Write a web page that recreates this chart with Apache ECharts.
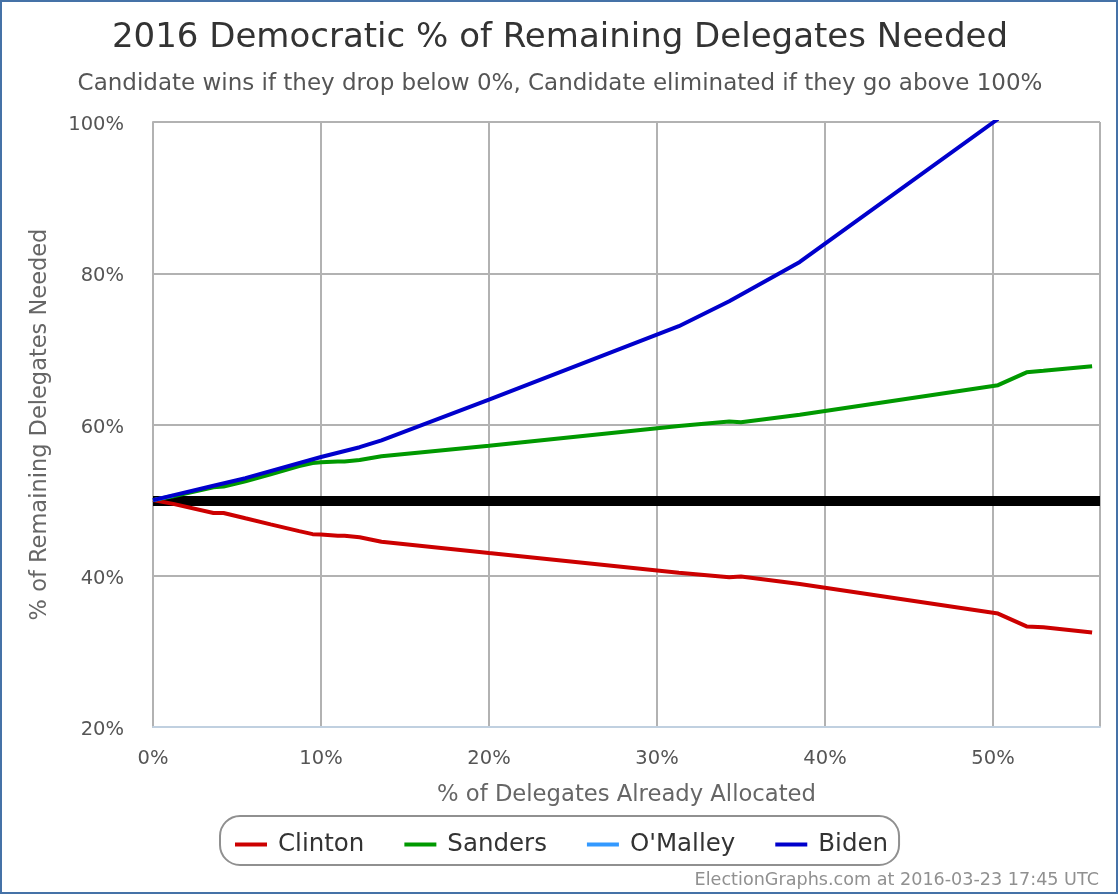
<!DOCTYPE html>
<html>
<head>
<meta charset="utf-8">
<script src="https://cdn.jsdelivr.net/npm/echarts@6/dist/echarts.min.js"></script>
<style>
html, body { margin: 0; padding: 0; background: #fff; }
#chart { width: 1120px; height: 896px; }
</style>
</head>
<body>
<div id="chart"></div>
<script>
const clintonX = [0, 1.2, 3.6, 4.2, 5.5, 7, 8.7, 9.5, 10, 11, 11.4, 12.3, 13.6, 20, 31.3, 34.3, 35, 38.5, 50.3, 52, 53, 55.9]
const clintonY = [50, 49.5, 48.3, 48.3, 47.6, 46.8, 45.9, 45.5, 45.45, 45.3, 45.3, 45.1, 44.5, 43, 40.4, 39.8, 39.9, 38.9, 35, 33.3, 33.2, 32.5]
const sandersX = [0, 1.2, 3.6, 4.2, 5.5, 7, 8.7, 9.5, 10, 11, 11.4, 12.3, 13.6, 20, 31.3, 34.3, 35, 38.5, 50.3, 52, 53, 55.9]
const sandersY = [50, 50.5, 51.7, 51.8, 52.5, 53.4, 54.5, 54.9, 55, 55.1, 55.1, 55.3, 55.8, 57.2, 59.8, 60.4, 60.3, 61.3, 65.2, 66.9, 67.1, 67.7]
const omalleyX = [0, 1.2]
const omalleyY = [50, 50.6]
const bidenX = [0, 3.6, 5.5, 10, 12.3, 13.6, 20, 31.3, 34.3, 38.5, 50.3]
const bidenY = [50, 51.9, 52.9, 55.7, 57, 57.9, 63.3, 73, 76.3, 81.5, 100.4]
const thresholdX = [0, 56.37]
const thresholdY = [49.9, 49.9]

const gridColor = '#b2b2b2'
const pair = (xs, ys) => xs.map((x, i) => [x, ys[i]])

function candidate(name, color, xs, ys) {
    return {
        name: name,
        type: 'line',
        data: pair(xs, ys),
        showSymbol: false,
        symbol: 'none',
        lineStyle: { color: color, width: 4 },
        itemStyle: { color: color },
        emphasis: { disabled: true }
    }
}

const chart = echarts.init(document.getElementById('chart'))
chart.setOption({
    animation: false,
    textStyle: { fontFamily: 'DejaVu Sans' },
    title: [
        {
            text: '2016 Democratic % of Remaining Delegates Needed',
            left: 555, top: 16, textAlign: 'center',
            textStyle: { fontSize: 34, fontWeight: 'normal', color: '#333333' }
        },
        {
            text: "Candidate wins if they drop below 0%, Candidate eliminated if they go above 100%",
            left: 555, top: 68, textAlign: 'center',
            textStyle: { fontSize: 23, fontWeight: 'normal', color: '#555555' }
        },
        {
            text: 'ElectionGraphs.com at 2016-03-23 17:45 UTC',
            right: 16, top: 866,
            textStyle: { fontSize: 17.6, fontWeight: 'normal', color: '#909090' }
        }
    ],
    grid: { left: 153, right: 20, top: 122, bottom: 169, containLabel: false },
    xAxis: {
        type: 'value',
        min: 0,
        max: 56.37,
        interval: 10,
        name: '% of Delegates Already Allocated',
        nameLocation: 'middle',
        nameGap: 57,
        nameTextStyle: { fontSize: 22.7, color: '#666666' },
        axisLine: { onZero: false, lineStyle: { color: '#c0d0e0', width: 2 } },
        axisTick: { show: false },
        axisLabel: { fontSize: 19.5, color: '#555555', margin: 22, showMaxLabel: false, formatter: '{value}%' },
        splitLine: { show: true, lineStyle: { color: gridColor, width: 2 } }
    },
    yAxis: {
        type: 'value',
        min: 20,
        max: 100,
        interval: 20,
        name: '% of Remaining Delegates Needed',
        nameLocation: 'middle',
        nameGap: 101,
        nameTextStyle: { fontSize: 22.5, color: '#666666' },
        axisLine: { show: true, lineStyle: { color: gridColor, width: 2 } },
        axisTick: { show: false },
        axisLabel: {
            margin: 29,
            formatter: '{tick|{value}%}',
            rich: { tick: { fontSize: 19.5, color: '#555555', padding: [6, 0, 0, 0] } }
        },
        splitLine: { show: true, lineStyle: { color: gridColor, width: 2 } }
    },
    legend: {
        data: ['Clinton', 'Sanders', "O'Malley", 'Biden'],
        left: 220,
        top: 816,
        icon: 'rect',
        itemWidth: 32,
        itemHeight: 4,
        itemGap: 40,
        padding: [16, 11, 8, 15],
        borderColor: '#909090',
        borderWidth: 2,
        borderRadius: 20,
        selectedMode: false,
        textStyle: { fontSize: 24.5, color: '#333333', padding: [0, 0, 0, 6] }
    },
    series: [
        {
            name: 'Threshold',
            type: 'line',
            data: pair(thresholdX, thresholdY),
            symbol: 'none',
            lineStyle: { color: '#000000', width: 10, cap: 'butt' },
            itemStyle: { color: '#000000' },
            emphasis: { disabled: true },
            z: 1
        },
        Object.assign(candidate('Clinton', '#cc0000', clintonX, clintonY), { z: 2 }),
        Object.assign(candidate('Sanders', '#009900', sandersX, sandersY), { z: 3 }),
        Object.assign(candidate("O'Malley", '#3399ff', omalleyX, omalleyY), { z: 4 }),
        Object.assign(candidate('Biden', '#0000cc', bidenX, bidenY), { z: 5 })
    ],
    graphic: [
        {
            type: 'rect',
            shape: { x: 1, y: 1, width: 1116, height: 892 },
            style: { fill: null, stroke: '#4572a7', lineWidth: 2 },
            silent: true
        }
    ]
})
window.addEventListener('resize', function () {
    chart.resize()
})
</script>
</body>
</html>
